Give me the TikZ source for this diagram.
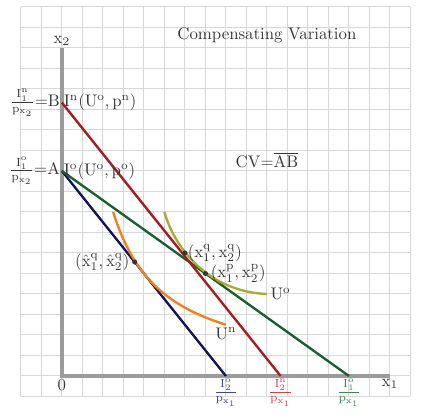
\documentclass[tikz,border=0pt]{standalone}
\usepackage{xcolor}
\definecolor{cvred}{RGB}{162,28,32}
\definecolor{cvgreen}{RGB}{28,94,44}
\definecolor{cvblue}{RGB}{18,20,92}
\definecolor{cvorange}{RGB}{240,128,32}
\definecolor{cvolive}{RGB}{170,170,52}
\definecolor{cvgrid}{RGB}{216,216,216}
\definecolor{cvaxis}{RGB}{155,155,158}
\definecolor{cvtext}{RGB}{55,55,55}
\definecolor{lblblue}{RGB}{70,72,140}
\definecolor{lblred}{RGB}{195,70,72}
\definecolor{lblgreen}{RGB}{62,135,80}
\begin{document}
\begin{tikzpicture}[x=12.2pt,y=12.2pt,
  gridline/.style={draw=cvgrid,line width=0.6pt},
  axisline/.style={draw=cvaxis,line width=2.4pt},
  budget/.style={line width=1.4pt},
  indiff/.style={line width=1.4pt},
  dotpt/.style={circle,fill=cvtext,inner sep=0pt,minimum size=3pt},
  every node/.style={text=cvtext}]
\useasboundingbox (-3.02,-1.95) rectangle (17.76,18.34);
\draw[gridline,step=1] (-2,-1) grid (17,18);
% axes
\coordinate (O) at (0,0);
\coordinate (Xend) at (16,0);
\coordinate (Yend) at (0,16);
\draw[axisline] (Yend) -- (O) -- (Xend);
\node[above,inner sep=1pt] (x2lab) at (Yend) {$\mathrm{x_2}$};
\node[below,inner sep=1.5pt] (x1lab) at (Xend) {$\mathrm{x_1}$};
\node[below,inner sep=2pt] (zero) at (O) {$0$};
% intercepts
\coordinate (A) at (0,10);
\coordinate (B) at (0,13.333);
\coordinate (Bl) at (8,0);
\coordinate (Rd) at (10.667,0);
\coordinate (Gr) at (14,0);
\draw[budget,cvblue] (A) -- (Bl);
\draw[budget,cvgreen] (A) -- (Gr);
\draw[budget,cvred] (B) -- (Rd);
% indifference curves
\draw[indiff,cvorange,domain=2.5:8,samples=60] plot (\x,{20/\x}) coordinate (Unend);
\draw[indiff,cvolive] (5,8) .. controls (5.5,6.2) and (7.2,4.1) .. (10,4) coordinate (Uoend);
\node[right,inner sep=2pt] (Uolab) at (Uoend) {$\mathrm{U^o}$};
\node[below,inner sep=1.5pt] (Unlab) at (Unend) {$\mathrm{U^n}$};
% points
\node[dotpt] (q) at (6,6) {};
\node[dotpt] (p) at (7,5) {};
\node[dotpt] (h) at (3.55,5.56) {};
\node[right,inner sep=1.5pt] (qlab) at (q) {$\mathrm{(x^q_1,x^q_2)}$};
\node[right,inner sep=3pt] (plab) at (p) {$\mathrm{(x^p_1,x^p_2)}$};
\node[left,inner sep=3pt] (hlab) at (h) {$\mathrm{(\hat{x}^q_1,\hat{x}^q_2)}$};
% axis labels
\node[left,inner sep=1pt] (Blab) at (B) {$\mathrm{\frac{I^n_1}{p_{x_2}}{=}B}$};
\node[left,inner sep=1pt] (Alab) at (A) {$\mathrm{\frac{I^o_1}{p_{x_2}}{=}A}$};
\node[right,inner sep=1pt] (Bexp) at (B) {$\mathrm{I^n(U^o,p^n)}$};
\node[right,inner sep=1pt] (Aexp) at (A) {$\mathrm{I^o(U^o,p^o)}$};
\node[below,inner sep=1.5pt,text=lblblue] (bllab) at (Bl) {$\mathrm{\frac{I^o_2}{p_{x_1}}}$};
\node[below,inner sep=1.5pt,text=lblred] (rdlab) at (Rd) {$\mathrm{\frac{I^n_2}{p_{x_1}}}$};
\node[below,inner sep=1.5pt,text=lblgreen] (grlab) at (Gr) {$\mathrm{\frac{I^o_1}{p_{x_1}}}$};
% titles
\node (title) at (10,16.63) {Compensating Variation};
\node (cv) at (10,10.55) {$\mathrm{CV{=}\overline{AB}}$};
\end{tikzpicture}
\end{document}
